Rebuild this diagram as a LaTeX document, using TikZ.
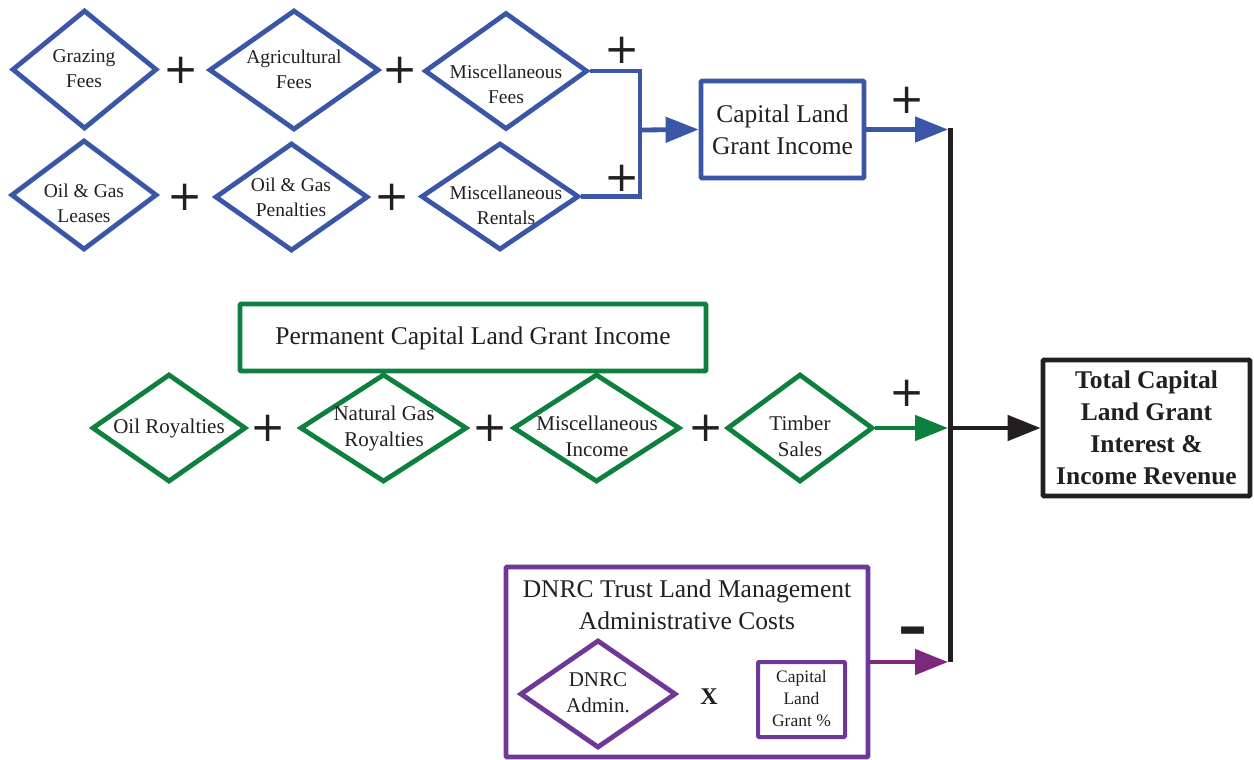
\documentclass[tikz,border=0pt]{standalone}
\usepackage{fontspec}
\setmainfont{Liberation Serif}
\newfontfamily\symf{DejaVu Sans}
\usetikzlibrary{shapes.geometric,arrows.meta}
\definecolor{cblue}{RGB}{58,86,166}
\definecolor{cgreen}{RGB}{14,128,62}
\definecolor{cpurple}{RGB}{111,55,150}
\definecolor{cpurarr}{RGB}{125,40,125}
\definecolor{cblack}{RGB}{35,31,32}
\begin{document}
\begin{tikzpicture}[x=1pt,y=-1pt,
  dia/.style={diamond, draw=#1, line width=4.8pt, inner sep=0pt},
  box/.style={rectangle, draw=#1, line width=4.8pt, inner sep=0pt, rounded corners=1pt},
  tsmall/.style={font=\fontsize{19.5}{25}\selectfont, align=center, text=cblack, inner sep=0pt},
  tmid/.style={font=\fontsize{21}{26}\selectfont, align=center, text=cblack, inner sep=0pt},
  tbig/.style={font=\fontsize{25.5}{32}\selectfont, align=center, text=cblack, inner sep=0pt},
  tbold/.style={font=\fontsize{25.5}{32}\selectfont\bfseries, align=center, text=cblack, inner sep=0pt},
  sign/.style={font=\symf\fontsize{42}{42}\selectfont, text=cblack, inner sep=0pt},
  conn/.style={line width=4.8pt, draw=#1},
  arr/.style={line width=4.8pt, draw=#1, -{Triangle[length=33pt,width=25pt,fill=#1]}}
]
\useasboundingbox (0,0) rectangle (1254,760);

% ---- blue diamonds
\node[dia=cblue, minimum width=145pt, minimum height=119pt] (gf) at (84.5,69.5) {};
\node[tsmall] (gft) at (84,69) {Grazing\\Fees};
\node[dia=cblue, minimum width=170pt, minimum height=120pt] (af) at (294,70) {};
\node[tsmall] (aft) at (294,69) {Agricultural\\Fees};
\node[dia=cblue, minimum width=163pt, minimum height=117pt] (mf) at (506,71) {};
\node[tsmall] (mft) at (506,84) {Miscellaneous\\Fees};
\node[dia=cblue, minimum width=146pt, minimum height=110pt] (ogl) at (84,195) {};
\node[tsmall] (oglt) at (84,203) {Oil \& Gas\\Leases};
\node[dia=cblue, minimum width=153pt, minimum height=108pt] (ogp) at (291.5,197) {};
\node[tsmall] (ogpt) at (291,197) {Oil \& Gas\\Penalties};
\node[dia=cblue, minimum width=158pt, minimum height=107pt] (mr) at (500,196.5) {};
\node[tsmall] (mrt) at (506,205) {Miscellaneous\\Rentals};

\node[sign] (p1) at (181,70) {+};
\node[sign] (p2) at (400,70) {+};
\node[sign] (p3) at (185,197) {+};
\node[sign] (p4) at (392,197) {+};
\node[sign] (p5) at (622,50) {+};
\node[sign] (p6) at (622,178) {+};

\node[box=cblue, minimum width=163pt, minimum height=97pt] (cl) at (782.5,129.5) {};
\node[tbig] (clt) at (782.5,130) {Capital Land\\Grant Income};

\coordinate (j3) at (640,130);
\coordinate (barTop) at (950,128);
\coordinate (barBot) at (950,662);

\draw[conn=cblue, line join=miter] (mf.east) -| (j3 |- mr.east) -- (mr.east);
\draw[arr=cblue] (j3) -- (cl.west);
\draw[arr=cblue, shorten >=2pt] (cl.east) -- (cl.east -| barTop);
\node[sign] (p7) at (907,100) {+};

% ---- green
\node[box=cgreen, minimum width=466pt, minimum height=67pt] (pc) at (473,337.5) {};
\node[tbig] (pct) at (473,338) {Permanent Capital Land Grant Income};
\node[dia=cgreen, minimum width=154pt, minimum height=108pt] (or) at (169,428) {};
\node[tmid] (ort) at (169,428) {Oil Royalties};
\node[dia=cgreen, minimum width=167pt, minimum height=108pt] (ng) at (383.5,428) {};
\node[tmid] (ngt) at (384,428) {Natural Gas\\Royalties};
\node[dia=cgreen, minimum width=167pt, minimum height=108pt] (mi) at (596.5,428) {};
\node[tmid] (mit) at (597,436) {Miscellaneous\\Income};
\node[dia=cgreen, minimum width=146pt, minimum height=108pt] (ts) at (800,428) {};
\node[tmid] (tst) at (800,436) {Timber\\Sales};
\node[sign] (p8) at (268,428) {+};
\node[sign] (p9) at (490,428) {+};
\node[sign] (p10) at (706,428) {+};
\draw[arr=cgreen, shorten >=2pt] (ts.east) -- (ts.east -| barTop);
\node[sign] (p11) at (907,393) {+};

% ---- total
\draw[line width=5pt, draw=cblack] (barTop) -- (barBot);
\node[box=cblack, minimum width=207pt, minimum height=136pt] (tot) at (1146.5,428) {};
\node[tbold] (tott) at (1146.5,428) {Total Capital\\Land Grant\\Interest \&\\Income Revenue};
\draw[arr=cblack] (barTop |- ts.east) -- (tot.west);

% ---- purple
\node[box=cpurple, minimum width=362pt, minimum height=190pt] (ad) at (687,662) {};
\node[tbig] (adt) at (687,605) {DNRC Trust Land Management\\Administrative Costs};
\node[dia=cpurple, minimum width=156pt, minimum height=108pt] (da) at (598,694) {};
\node[tmid] (dat) at (598,693) {DNRC\\Admin.};
\node[font=\fontsize{24}{24}\selectfont\bfseries, text=cblack, inner sep=0pt] (xx) at (709,697) {X};
\node[box=cpurple, line width=4pt, minimum width=87pt, minimum height=75pt] (cg) at (801.5,699.5) {};
\node[font=\fontsize{17.5}{22}\selectfont, align=center, text=cblack, inner sep=0pt] (cgt) at (801.5,699) {Capital\\Land\\Grant \%};
\draw[arr=cpurarr, shorten >=2pt] (ad.east |- barBot) -- (barBot);
\node[font=\symf\bfseries\fontsize{58}{58}\selectfont, text=cblack, inner sep=0pt] (mn) at (913,637) {–};
\end{tikzpicture}
\end{document}
